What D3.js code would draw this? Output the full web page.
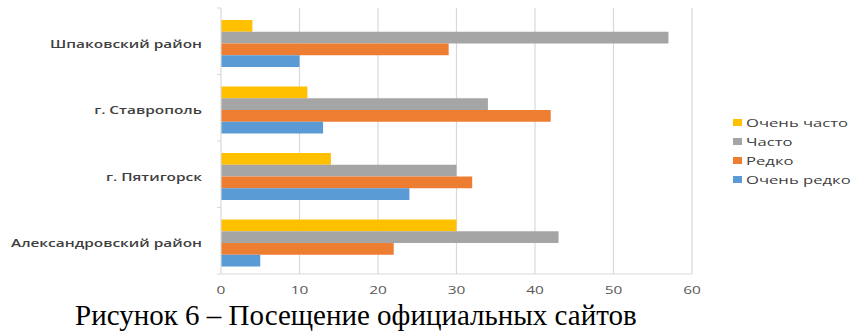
<!DOCTYPE html>
<html>
<head>
<meta charset="utf-8">
<script src="https://cdn.jsdelivr.net/npm/d3@7"></script>
<style>
  body { margin: 0; background: #fff; }
  svg { display: block; }
</style>
</head>
<body>
<svg id="chart" width="867" height="336"></svg>
<script>
const categories = ['Шпаковский район', 'г. Ставрополь', 'г. Пятигорск', 'Александровский район'];
const seriesNames = ['Очень часто', 'Часто', 'Редко', 'Очень редко'];
const seriesColors = ['#FFC000', '#A5A5A5', '#ED7D31', '#5B9BD5'];
// values per series, in category order
const veryOften = [4, 11, 14, 30];
const often = [57, 34, 30, 43];
const rarely = [29, 42, 32, 22];
const veryRarely = [10, 13, 24, 5];
const xTicks = [0, 10, 20, 30, 40, 50, 60];
const caption = 'Рисунок 6 – Посещение официальных сайтов';

const seriesValues = [veryOften, often, rarely, veryRarely];

// the chart image is stretched sideways in the source, text too
const stretch = 1.4;
const sans = 'Open Sans, Arial, sans-serif';

const svg = d3.select('#chart');

const x = d3.scaleLinear().domain([0, 60]).range([221, 692]);
const y0 = d3.scaleBand().domain(categories).range([8, 274]);
const y1 = d3.scaleBand().domain(seriesNames).range([12, 59]);

// gridlines
svg.append('g')
  .selectAll('line')
  .data(xTicks.slice(1))
  .join('line')
    .attr('x1', d => x(d)).attr('x2', d => x(d))
    .attr('y1', 8).attr('y2', 274)
    .attr('stroke', '#D9D9D9')
    .attr('stroke-width', 1.2);

// bars
const rows = categories.map((c, i) => ({
  cat: c,
  values: seriesNames.map((s, j) => ({ s, v: seriesValues[j][i], color: seriesColors[j] }))
}));

svg.append('g')
  .selectAll('g')
  .data(rows)
  .join('g')
    .attr('transform', d => `translate(0,${y0(d.cat)})`)
  .selectAll('rect')
  .data(d => d.values)
  .join('rect')
    .attr('x', x(0))
    .attr('y', d => y1(d.s))
    .attr('width', d => x(d.v) - x(0))
    .attr('height', y1.bandwidth())
    .attr('fill', d => d.color);

// axes lines
svg.append('line')
  .attr('x1', x(0)).attr('x2', x(0)).attr('y1', 8).attr('y2', 274)
  .attr('stroke', '#D9D9D9').attr('stroke-width', 1.2);
svg.append('line')
  .attr('x1', x(0)).attr('x2', x(60)).attr('y1', 274).attr('y2', 274)
  .attr('stroke', '#D9D9D9').attr('stroke-width', 1.2);
svg.append('g')
  .selectAll('line')
  .data(categories.map(c => y0(c)).concat([274]))
  .join('line')
    .attr('x1', x(0) - 4).attr('x2', x(0))
    .attr('y1', d => d).attr('y2', d => d)
    .attr('stroke', '#D9D9D9');

// x tick labels
svg.append('g')
  .selectAll('text')
  .data(xTicks)
  .join('text')
    .attr('transform', d => `translate(${x(d)},294) scale(${stretch},1)`)
    .attr('text-anchor', 'middle')
    .attr('font-family', sans)
    .attr('font-size', 11)
    .attr('fill', '#595959')
    .text(d => d);

// category labels
svg.append('g')
  .selectAll('text')
  .data(categories)
  .join('text')
    .attr('transform', d => `translate(202,${y0(d) + 39.5}) scale(${stretch},1)`)
    .attr('text-anchor', 'end')
    .attr('font-family', sans)
    .attr('font-size', 11)
    .attr('font-weight', 600)
    .attr('fill', '#404040')
    .text(d => d);

// legend
const legend = svg.append('g')
  .selectAll('g')
  .data(seriesNames)
  .join('g')
    .attr('transform', (d, i) => `translate(733,${123 + i * 19})`);
legend.append('rect')
  .attr('x', 0).attr('y', -4)
  .attr('width', 9).attr('height', 7)
  .attr('fill', (d, i) => seriesColors[i]);
legend.append('text')
  .attr('transform', `translate(13,4) scale(${stretch * 1.08},1)`)
  .attr('font-family', sans)
  .attr('font-size', 11)
  .attr('fill', '#404040')
  .text(d => d);

// caption
svg.append('text')
  .attr('x', 75)
  .attr('y', 325)
  .attr('font-family', 'Liberation Serif, Times New Roman, serif')
  .attr('font-size', 29)
  .attr('fill', '#000')
  .text(caption);
</script>
</body>
</html>
